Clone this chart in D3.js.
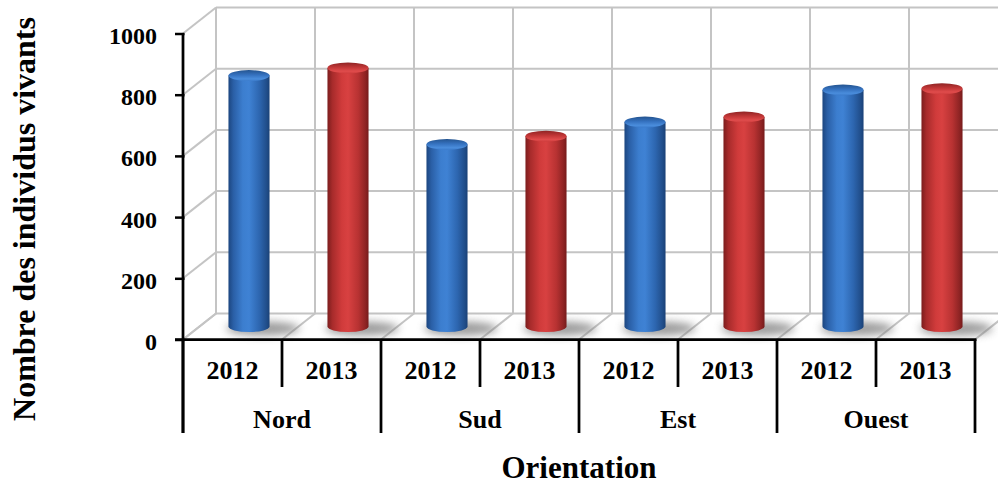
<!DOCTYPE html>
<html>
<head>
<meta charset="utf-8">
<script src="https://cdn.jsdelivr.net/npm/d3@7"></script>
<style>
  html, body { margin: 0; padding: 0; background: #fff; }
  svg { display: block; }
  text { font-family: "Times New Roman", "Liberation Serif", "DejaVu Serif", serif; font-weight: bold; fill: #000; }
</style>
</head>
<body>
<svg id="chart" width="998" height="485"></svg>
<script>
// Living individuals per orientation, two survey years
const groups = ["Nord", "Sud", "Est", "Ouest"];
const years = ["2012", "2013"];
const values2012 = [820, 595, 668, 773];
const values2013 = [845, 622, 685, 777];
const yTicks = [0, 200, 400, 600, 800, 1000];
const yTitle = "Nombre des individus vivants";
const xTitle = "Orientation";

const W = 998, H = 485;
const svg = d3.select("#chart");

// flat list of (group, year, value) in drawing order
const rows = [];
groups.forEach((g, i) => {
  rows.push({ group: g, year: years[0], value: values2012[i], series: 0 });
  rows.push({ group: g, year: years[1], value: values2013[i], series: 1 });
});
const keyOf = d => d.group + "|" + d.year;

// front plane scales
const x = d3.scaleBand().domain(rows.map(keyOf)).range([183, 975]).paddingInner(0).paddingOuter(0);
const y = d3.scaleLinear().domain([0, 1000]).range([339.5, 33.5]);
const gx = d3.scaleBand().domain(groups).range([183, 975]);

// oblique depth offset of the back wall
const DX = 33, DY = -26;
const gridColor = "#c4c4c4";

const defs = svg.append("defs");
function bodyGrad(id, stops) {
  const g = defs.append("linearGradient").attr("id", id).attr("x1", "0").attr("x2", "1").attr("y1", "0").attr("y2", "0");
  stops.forEach(s => g.append("stop").attr("offset", s[0]).attr("stop-color", s[1]));
}
function capGrad(id, stops) {
  const g = defs.append("linearGradient").attr("id", id).attr("x1", "0").attr("x2", "0").attr("y1", "0").attr("y2", "1");
  stops.forEach(s => g.append("stop").attr("offset", s[0]).attr("stop-color", s[1]));
}
bodyGrad("bodyBlue", [["0", "#1c4680"], ["0.12", "#2a5fa6"], ["0.35", "#3c7ecf"], ["0.5", "#3f82d4"], ["0.75", "#2d66b0"], ["0.92", "#214f8c"], ["1", "#1a4177"]]);
bodyGrad("bodyRed", [["0", "#7c1d1d"], ["0.12", "#a72b2b"], ["0.35", "#d03b3b"], ["0.5", "#d84141"], ["0.75", "#b83232"], ["0.92", "#8f2424"], ["1", "#761b1b"]]);
capGrad("capBlue", [["0", "#24548f"], ["0.45", "#3572c0"], ["0.8", "#4a8ddc"], ["1", "#3b7bcb"]]);
capGrad("capRed", [["0", "#8e2424"], ["0.45", "#c23737"], ["0.8", "#e04c4c"], ["1", "#cf3e3e"]]);
defs.append("filter").attr("id", "soft").attr("x", "-50%").attr("y", "-100%").attr("width", "200%").attr("height", "300%")
  .append("feGaussianBlur").attr("stdDeviation", 4);

const grid = svg.append("g").attr("fill", "none").attr("stroke", gridColor).attr("stroke-width", 2);

// back wall horizontal gridlines
grid.selectAll("line.bh").data(yTicks).join("line")
  .attr("x1", x.range()[0] + DX).attr("x2", x.range()[1] + DX)
  .attr("y1", d => y(d) + DY).attr("y2", d => y(d) + DY);

// back wall vertical gridlines at every slot boundary
const bounds = d3.range(rows.length + 1).map(i => x.range()[0] + i * x.step());
grid.selectAll("line.bv").data(bounds).join("line")
  .attr("x1", d => d + DX).attr("x2", d => d + DX)
  .attr("y1", y(1000) + DY).attr("y2", y(0) + DY);

// side wall diagonals from each tick back to the wall
grid.selectAll("line.sd").data(yTicks).join("line")
  .attr("x1", x.range()[0]).attr("x2", x.range()[0] + DX)
  .attr("y1", d => y(d)).attr("y2", d => y(d) + DY);

// floor diagonals
grid.selectAll("line.fd").data(bounds).join("line")
  .attr("x1", d => d).attr("x2", d => d + DX)
  .attr("y1", y(0)).attr("y2", y(0) + DY);

// cylinders sit halfway into the depth
const bw = x.bandwidth() * 0.415;
const rx = bw / 2, ry = 5.5;
const cxOf = d => x(keyOf(d)) + x.bandwidth() / 2 + DX / 2;
const yMid = v => y(v) + DY / 2;

const bars = svg.append("g");

// floor shadows
bars.selectAll("ellipse.shadow").data(rows).join("ellipse")
  .attr("cx", d => cxOf(d) + 14)
  .attr("cy", yMid(0) + 2)
  .attr("rx", rx + 16)
  .attr("ry", 7)
  .attr("fill", "#7a7a7a")
  .attr("opacity", 0.75)
  .attr("filter", "url(#soft)");

const cyl = bars.selectAll("g.cyl").data(rows).join("g");
cyl.append("path")
  .attr("d", d => {
    const cx = cxOf(d), t = yMid(d.value), b = yMid(0);
    return `M${cx - rx},${t} L${cx - rx},${b} A${rx},${ry} 0 0 0 ${cx + rx},${b} L${cx + rx},${t} Z`;
  })
  .attr("fill", d => d.series === 0 ? "url(#bodyBlue)" : "url(#bodyRed)");
cyl.append("ellipse")
  .attr("cx", cxOf)
  .attr("cy", d => yMid(d.value))
  .attr("rx", rx)
  .attr("ry", ry)
  .attr("fill", d => d.series === 0 ? "url(#capBlue)" : "url(#capRed)");

// value axis
const yAxis = svg.append("g")
  .attr("transform", `translate(${x.range()[0]},0)`)
  .call(d3.axisLeft(y).tickValues(yTicks).tickSize(8).tickSizeOuter(0).tickPadding(18).tickFormat(d3.format("d")));
yAxis.select(".domain").remove();
yAxis.selectAll(".tick line").attr("stroke", "#000").attr("stroke-width", 2.5).attr("x2", -8).attr("x1", 1.5);
yAxis.selectAll(".tick text")
  .attr("font-size", 24).attr("dy", "0.42em")
  .style("font-family", "'Times New Roman', 'Liberation Serif', serif").style("font-weight", "bold");

const ax = svg.append("g").attr("stroke", "#000").attr("stroke-width", 2.75).attr("fill", "none");
// vertical value axis line, continuing down as the label frame border
ax.append("line").attr("x1", x.range()[0]).attr("x2", x.range()[0]).attr("y1", y(1000)).attr("y2", 433);
// category axis line
ax.append("line").attr("x1", x.range()[0] - 8).attr("x2", x.range()[1] + 1.5).attr("y1", y(0)).attr("y2", y(0));

// label frame separators: short ones between years, long ones between groups
ax.selectAll("line.sep").data(bounds).join("line")
  .attr("x1", d => d).attr("x2", d => d)
  .attr("y1", y(0))
  .attr("y2", (d, i) => i % 2 === 0 ? 433 : 387);

// year labels
svg.append("g").selectAll("text").data(rows).join("text")
  .attr("x", d => x(keyOf(d)) + x.bandwidth() / 2)
  .attr("y", 379)
  .attr("text-anchor", "middle")
  .attr("font-size", 26)
  .text(d => d.year);

// group labels
svg.append("g").selectAll("text").data(groups).join("text")
  .attr("x", d => gx(d) + gx.bandwidth() / 2)
  .attr("y", 428)
  .attr("text-anchor", "middle")
  .attr("font-size", 26)
  .text(d => d);

// axis titles
svg.append("text")
  .attr("x", 579).attr("y", 478)
  .attr("text-anchor", "middle")
  .attr("font-size", 31)
  .text(xTitle);

svg.append("text")
  .attr("transform", "translate(35,219) rotate(-90)")
  .attr("text-anchor", "middle")
  .attr("font-size", 32)
  .text(yTitle);
</script>
</body>
</html>
